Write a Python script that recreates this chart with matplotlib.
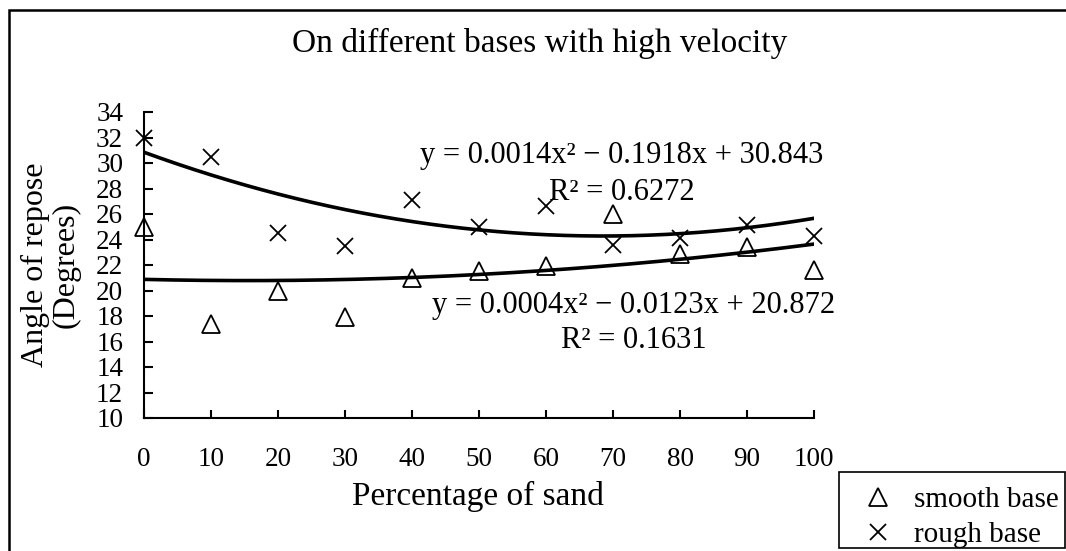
import numpy as np
import matplotlib
matplotlib.use('Agg')
import matplotlib.pyplot as plt
from matplotlib.patches import Rectangle
from matplotlib.lines import Line2D

plt.rcParams['font.family'] = ['Liberation Serif', 'DejaVu Serif']

# percentage of sand in the mixture
sand = [0, 10, 20, 30, 40, 50, 60, 70, 80, 90, 100]
# angle of repose, degrees
smooth_base = [25.0, 17.4, 20.0, 17.9, 21.0, 21.5, 21.9, 26.0, 22.9, 23.4, 21.6]
rough_base = [32.0, 30.5, 24.5, 23.5, 27.1, 25.0, 26.6, 23.6, 24.1, 25.1, 24.3]

# polynomial trendline coefficients (a, b, c) and R^2
rough_fit = [0.0014, -0.1918, 30.843]
rough_r2 = 0.6272
smooth_fit = [0.0004, -0.0123, 20.872]
smooth_r2 = 0.1631

y_ticks = list(range(10, 35, 2))
x_ticks = list(range(0, 101, 10))

W, H = 1066, 551
fig = plt.figure(figsize=(W / 100, H / 100), dpi=100)
ax = fig.add_axes([144 / W, 1 - 418 / H, 670 / W, 306 / H])

ax.plot(sand, smooth_base, linestyle='none', marker='^', ms=13,
        mfc='white', mec='black', mew=1.3, zorder=2, clip_on=False, label='smooth base')
ax.plot(sand, rough_base, linestyle='none', marker='x', ms=11,
        mec='black', mew=1.3, zorder=2, clip_on=False, label='rough base')

xs = np.linspace(0, 100, 200)
for a, b, c in (rough_fit, smooth_fit):
    ax.plot(xs, a * xs ** 2 + b * xs + c, color='black', lw=2.6, zorder=3)


def eq_text(coef):
    a, b, c = coef
    sb = '−' if b < 0 else '+'
    return f'y = {a:.4f}x² {sb} {abs(b):.4f}x + {c:.3f}'


fig.text(622 / W, 1 - 155 / H, eq_text(rough_fit), ha='center', va='center', fontsize=22)
fig.text(622 / W, 1 - 193 / H, f'R² = {rough_r2:.4f}', ha='center', va='center', fontsize=22)
fig.text(634 / W, 1 - 306 / H, eq_text(smooth_fit), ha='center', va='center', fontsize=22)
fig.text(634 / W, 1 - 341 / H, f'R² = {smooth_r2:.4f}', ha='center', va='center', fontsize=22)

ax.set_xlim(0, 100)
ax.set_ylim(10, 34)
ax.set_xticks(x_ticks)
ax.set_yticks(y_ticks)
ax.spines['top'].set_visible(False)
ax.spines['right'].set_visible(False)
for s in ('left', 'bottom'):
    ax.spines[s].set_linewidth(1.5)
ax.tick_params(axis='x', direction='in', length=6, width=1.5, pad=21, labelsize=19.5)
ax.tick_params(axis='y', direction='in', length=6.5, width=1.5, pad=15, labelsize=19.5)

ax.set_xlabel('Percentage of sand', fontsize=24, va='center')
ax.xaxis.set_label_coords(0.4985, -0.258)
ax.set_ylabel('Angle of repose\n(Degrees)', fontsize=23, va='center', linespacing=1.05)
ax.yaxis.set_label_coords(-0.139, 0.5)

fig.text(540 / W, 1 - 43 / H, 'On different bases with high velocity',
         ha='center', va='center', fontsize=24)

# outer chart frame: only the left and top edges fall inside the image
fx, fy = 8.5 / W, 1 - 9.5 / H
fig.add_artist(Line2D([fx, fx, 1], [0, fy, fy], transform=fig.transFigure,
                      color='black', lw=1.8, solid_joinstyle='miter'))

# legend box
fig.patches.append(Rectangle((839 / W, 1 - 548 / H), 226 / W, 76 / H, transform=fig.transFigure,
                             fill=False, ec='black', lw=1.2))
fig.legend(loc='upper left', bbox_to_anchor=(863 / W, 1 - 487 / H), frameon=False,
           fontsize=21, handlelength=1.0, handletextpad=0.75, labelspacing=0.28,
           borderpad=0, borderaxespad=0)

fig.savefig('out.png', dpi=100)
